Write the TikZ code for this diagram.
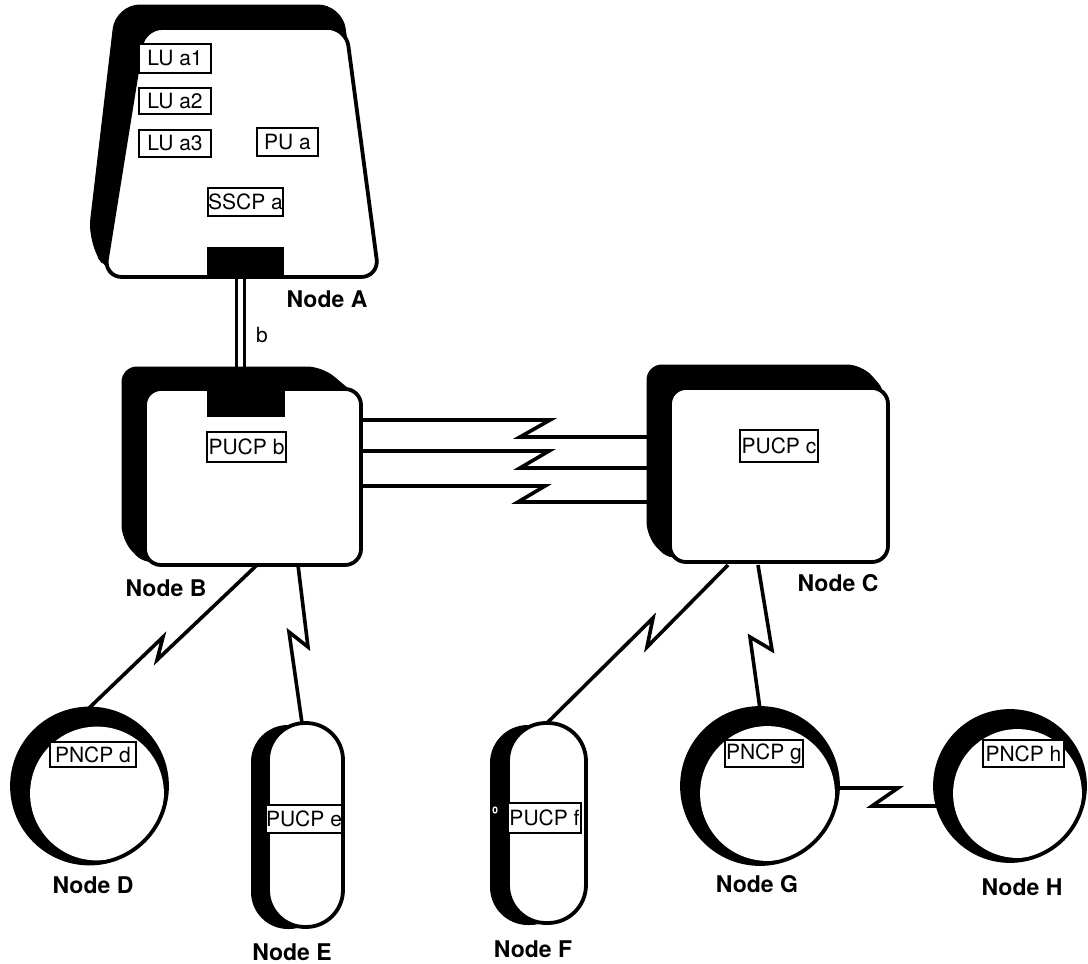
\documentclass[tikz,border=0pt]{standalone}
\usepackage{fontspec}
\setmainfont{TeX Gyre Heros}
\begin{document}
\begin{tikzpicture}[x=1pt,y=-1pt,
  face/.style={fill=white,draw=black,line width=3.8pt,line join=round},
  shade/.style={fill=black,draw=black,line width=1pt,line join=round},
  conn/.style={line width=3.6pt,line join=miter,miter limit=20},
  lbl/.style={draw,fill=white,line width=1.4pt,inner sep=0pt,font=\fontsize{21}{23}\selectfont},
  nname/.style={font=\fontsize{23}{26}\selectfont\bfseries,inner sep=0pt}]
\useasboundingbox (0,0) rectangle (1088,964);

% ---------- connector end points ----------
\coordinate (Ab1) at (236.5,277); \coordinate (Bt1) at (236.5,369);
\coordinate (Ab2) at (244.5,277); \coordinate (Bt2) at (244.5,369);
\coordinate (Br1) at (361,420); \coordinate (Cl1) at (647,437);
\coordinate (Br2) at (361,451); \coordinate (Cl2) at (647,468);
\coordinate (Br3) at (361,486); \coordinate (Cl3) at (647,502);
\coordinate (BD) at (257,565); \coordinate (Dt) at (87,710);
\coordinate (BE) at (298,565); \coordinate (Et) at (302,723);
\coordinate (CF) at (728,565); \coordinate (Ft) at (547,723);
\coordinate (CG) at (758,565); \coordinate (Gt) at (760,709);
\coordinate (Gr) at (838,788); \coordinate (Hl) at (938,806);

% ---------- connectors ----------
\draw[line width=3.4pt] (Ab1) -- (Bt1);
\draw[line width=3.4pt] (Ab2) -- (Bt2);
\node[font=\fontsize{21}{23}\selectfont] (lb) at (262,335) {b};
\draw[conn] (Br1) -- (550,420) -- (520,437) -- (Cl1);
\draw[conn] (Br2) -- (549,451) -- (520,468) -- (Cl2);
\draw[conn] (Br3) -- (545,486) -- (518,502) -- (Cl3);
\draw[conn] (BD) -- (157,660) -- (163,637) -- (Dt);
\draw[conn] (BE) -- (308,647) -- (289,632) -- (Et);
\draw[conn] (CF) -- (647,647) -- (653,618) -- (Ft);
\draw[conn] (CG) -- (772,650) -- (750,637) -- (Gt);
\draw[conn] (Gr) -- (898,788) -- (872,806) -- (Hl);

% ---------- Node A ----------
\filldraw[shade,rounded corners=24pt] (116,5) -- (342,5) -- (379,277) -- (112,277) -- (88,243) -- cycle;
\draw[face,rounded corners=18pt] (144,28) -- (346,28) -- (379,277) -- (104,277) -- cycle;
\fill (207,247) rectangle (284,277);
\node[lbl,minimum width=72pt,minimum height=29pt] (la1) at (175,58.5) {LU a1};
\node[lbl,minimum width=72pt,minimum height=26pt] (la2) at (175,101) {LU a2};
\node[lbl,minimum width=72pt,minimum height=27pt] (la3) at (175,143.5) {LU a3};
\node[lbl,minimum width=61pt,minimum height=28pt] (pua) at (287.5,142) {PU a};
\node[lbl,minimum width=75pt,minimum height=28pt] (sscpa) at (245.5,202) {SSCP a};
\node[nname] (nA) at (327,299) {Node A};

% ---------- Node B ----------
\filldraw[shade,rounded corners=15pt] (122,367) -- (322,367) -- (359,398) -- (300,500) -- (147,566) -- (122,540) -- cycle;
\draw[face,rounded corners=16pt] (145,389) rectangle (361,565);
\fill (207,386) rectangle (285,417);
\node[lbl,minimum width=79pt,minimum height=30pt] (pucpb) at (246.5,447) {PUCP b};
\node[nname] (nB) at (166,588) {Node B};

% ---------- Node C ----------
\filldraw[shade,rounded corners=15pt] (647,365) -- (862,365) -- (888,395) -- (800,500) -- (672,562) -- (647,537) -- cycle;
\draw[face,rounded corners=16pt] (670,388) rectangle (888,562);
\node[lbl,minimum width=78pt,minimum height=32pt] (pucpc) at (779,446) {PUCP c};
\node[nname] (nC) at (838,583) {Node C};

% ---------- Node D ----------
\fill (89.5,786) circle (77.5pt);
\fill[white] (97,793.5) circle (66.9pt);
\draw[line width=3.8pt] (89.5,786) circle (77.5pt);
\node[lbl,minimum width=86pt,minimum height=25pt] (pncpd) at (93,754.5) {PNCP d};
\node[nname] (nD) at (93,885) {Node D};

% ---------- Node E ----------
\fill[rounded corners=37pt] (251,725) rectangle (326,929);
\draw[face,rounded corners=37pt] (268,723) rectangle (343,927);
\node[lbl,minimum width=72pt,minimum height=28pt] (pucpe) at (304,819) {PUCP e};
\node[nname] (nE) at (292,952) {Node E};

% ---------- Node F ----------
\fill[rounded corners=38pt] (490,725) rectangle (568,925);
\draw[face,rounded corners=38pt] (508,723) rectangle (586,923);
\draw[white,line width=1.2pt] (495,810) ellipse (2pt and 3pt);
\node[lbl,minimum width=73pt,minimum height=30pt] (pucpf) at (544.5,818) {PUCP f};
\node[nname] (nF) at (533,949) {Node F};

% ---------- Node G ----------
\fill (760,786) circle (78pt);
\fill[white] (767.5,793.5) circle (67.4pt);
\draw[line width=3.8pt] (760,786) circle (78pt);
\node[lbl,minimum width=78pt,minimum height=27pt] (pncpg) at (764,753.5) {PNCP g};
\node[nname] (nG) at (757,884) {Node G};

% ---------- Node H ----------
\fill (1010,786) circle (75pt);
\fill[white] (1017.5,793.5) circle (64.4pt);
\draw[line width=3.8pt] (1010,786) circle (75pt);
\node[lbl,minimum width=81pt,minimum height=27pt] (pncph) at (1023.5,753.5) {PNCP h};
\node[nname] (nH) at (1022,887) {Node H};
\end{tikzpicture}
\end{document}
